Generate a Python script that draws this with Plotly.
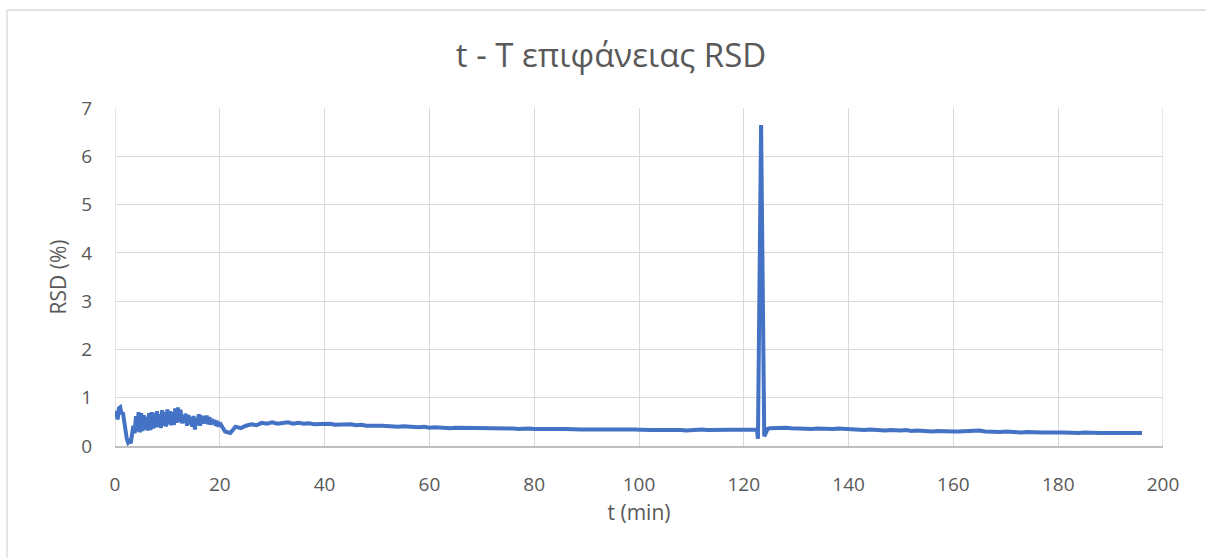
import numpy as np
import plotly.graph_objects as go

# --- measurement data -------------------------------------------------------
# Start-up phase, sampled every 0.25 min from 0 to 19.75 min
early_step = 0.25
early_rsd = [
    0.60, 0.72, 0.55, 0.78,
    0.80, 0.66, 0.70, 0.50,
    0.30, 0.15, 0.07, 0.10,
    0.06, 0.20, 0.42, 0.26,
    0.62, 0.30, 0.70, 0.28,
    0.68, 0.31, 0.64, 0.34,
    0.60, 0.32, 0.68, 0.33,
    0.70, 0.36, 0.68, 0.38,
    0.72, 0.40, 0.66, 0.37,
    0.74, 0.42, 0.70, 0.40,
    0.76, 0.45, 0.72, 0.43,
    0.70, 0.44, 0.78, 0.48,
    0.80, 0.50, 0.75, 0.47,
    0.64, 0.48, 0.67, 0.42,
    0.64, 0.45, 0.60, 0.40,
    0.62, 0.34, 0.58, 0.44,
    0.66, 0.42, 0.63, 0.46,
    0.62, 0.47, 0.63, 0.45,
    0.60, 0.44, 0.56, 0.46,
    0.54, 0.42, 0.52, 0.40,
]

# Steady operation, one sample per minute from 20 to 122 min
mid_start = 20
mid_rsd = [
    0.48, 0.30, 0.27, 0.40, 0.37, 0.42, 0.45, 0.43, 0.48, 0.46,
    0.49, 0.46, 0.48, 0.49, 0.46, 0.48, 0.46, 0.47, 0.45, 0.46,
    0.45, 0.46, 0.44, 0.45, 0.44, 0.45, 0.43, 0.44, 0.42, 0.43,
    0.42, 0.42, 0.41, 0.42, 0.40, 0.41, 0.40, 0.40, 0.39, 0.40,
    0.38, 0.39, 0.38, 0.38, 0.37, 0.38, 0.38, 0.37, 0.37, 0.38,
    0.37, 0.36, 0.37, 0.36, 0.37, 0.36, 0.36, 0.35, 0.36, 0.36,
    0.35, 0.36, 0.35, 0.35, 0.34, 0.35, 0.35, 0.34, 0.35, 0.34,
    0.34, 0.35, 0.34, 0.34, 0.33, 0.34, 0.34, 0.33, 0.34, 0.34,
    0.33, 0.34, 0.33, 0.33, 0.34, 0.33, 0.33, 0.34, 0.33, 0.32,
    0.33, 0.33, 0.34, 0.33, 0.33, 0.32, 0.33, 0.34, 0.33, 0.33,
    0.33, 0.34, 0.33,
]

# Disturbance event around 123 min
spike_t = [122.5, 122.7, 123.3, 123.9, 124.2, 124.6]
spike_rsd = [0.34, 0.15, 6.65, 0.20, 0.26, 0.36]

# Late operation, one sample per minute from 125 to 196 min
late_start = 125
late_rsd = [
    0.37, 0.38, 0.37, 0.38, 0.37, 0.36, 0.37, 0.36, 0.35, 0.36,
    0.35, 0.36, 0.35, 0.36, 0.35, 0.34, 0.35, 0.34, 0.33, 0.34,
    0.33, 0.33, 0.32, 0.33, 0.32, 0.32, 0.33, 0.31, 0.32, 0.31,
    0.31, 0.30, 0.31, 0.30, 0.31, 0.30, 0.30, 0.31, 0.30, 0.33,
    0.32, 0.30, 0.29, 0.30, 0.29, 0.30, 0.29, 0.29, 0.28, 0.29,
    0.28, 0.29, 0.28, 0.28, 0.27, 0.28, 0.28, 0.27, 0.28, 0.27,
    0.28, 0.27, 0.28, 0.27, 0.27, 0.28, 0.27, 0.27, 0.28, 0.27,
    0.27, 0.27,
]

x_ticks = [0, 20, 40, 60, 80, 100, 120, 140, 160, 180, 200]
y_ticks = [0, 1, 2, 3, 4, 5, 6, 7]

# --- assemble the time series ----------------------------------------------
t_early = np.arange(len(early_rsd)) * early_step
t_mid = mid_start + np.arange(len(mid_rsd))
t_late = late_start + np.arange(len(late_rsd))

t = np.concatenate([t_early, t_mid, spike_t, t_late])
rsd = np.concatenate([early_rsd, mid_rsd, spike_rsd, late_rsd])

BLUE = "#4472C4"
GRID = "#D9D9D9"
TEXT = "#595959"
FONT = "Open Sans"
TICK_SIZE = 19
AXIS_TITLE_SIZE = 21

fig = go.Figure()
fig.add_trace(go.Scatter(
    x=t, y=rsd, mode="lines",
    line=dict(color=BLUE, width=4),
    showlegend=False,
))

fig.update_layout(
    width=1206, height=558,
    paper_bgcolor="white", plot_bgcolor="white",
    margin=dict(l=115, r=43, t=108, b=112),
    font=dict(family=FONT, color=TEXT, size=TICK_SIZE),
    title=dict(
        text="t - T επιφάνειας RSD",
        x=611 / 1206, xref="container", xanchor="center",
        y=1 - 55 / 558, yref="container", yanchor="middle",
        font=dict(family=FONT, size=33, color=TEXT),
    ),
    xaxis=dict(
        range=[0, 200], tickvals=x_ticks,
        showgrid=True, gridcolor=GRID, gridwidth=1.3,
        zeroline=False,
        showline=True, linecolor="#BFBFBF", linewidth=1.5,
        ticks="", ticklabelstandoff=20,
        tickfont=dict(family=FONT, size=TICK_SIZE, color=TEXT),
        title=dict(text="t (min)", standoff=10,
                   font=dict(family=FONT, size=AXIS_TITLE_SIZE, color=TEXT)),
    ),
    yaxis=dict(
        range=[0, 7], tickvals=y_ticks,
        showgrid=True, gridcolor=GRID, gridwidth=1.3,
        zeroline=False, showline=False,
        ticks="", ticklabelstandoff=22,
        tickfont=dict(family=FONT, size=TICK_SIZE, color=TEXT),
        title=dict(text="RSD (%)", standoff=8,
                   font=dict(family=FONT, size=AXIS_TITLE_SIZE, color=TEXT)),
    ),
)

# vertical gridlines at the axis ends
for xv in (0, 200):
    fig.add_shape(type="line", xref="x", yref="y", x0=xv, x1=xv, y0=0, y1=7,
                  line=dict(color=GRID, width=1.3), layer="below")

# chart-area frame
W, H = 1206, 558
pl, pr, pt, pb = 115, W - 43, 108, H - 112
pw, ph = pr - pl, pb - pt
fig.add_shape(
    type="rect", xref="paper", yref="paper",
    x0=(7 - pl) / pw, x1=(W + 5 - pl) / pw,
    y0=(pb - (H + 5)) / ph, y1=(pb - 10) / ph,
    line=dict(color=GRID, width=1.3), fillcolor="rgba(0,0,0,0)", layer="below",
)

fig.write_html("out.html")
